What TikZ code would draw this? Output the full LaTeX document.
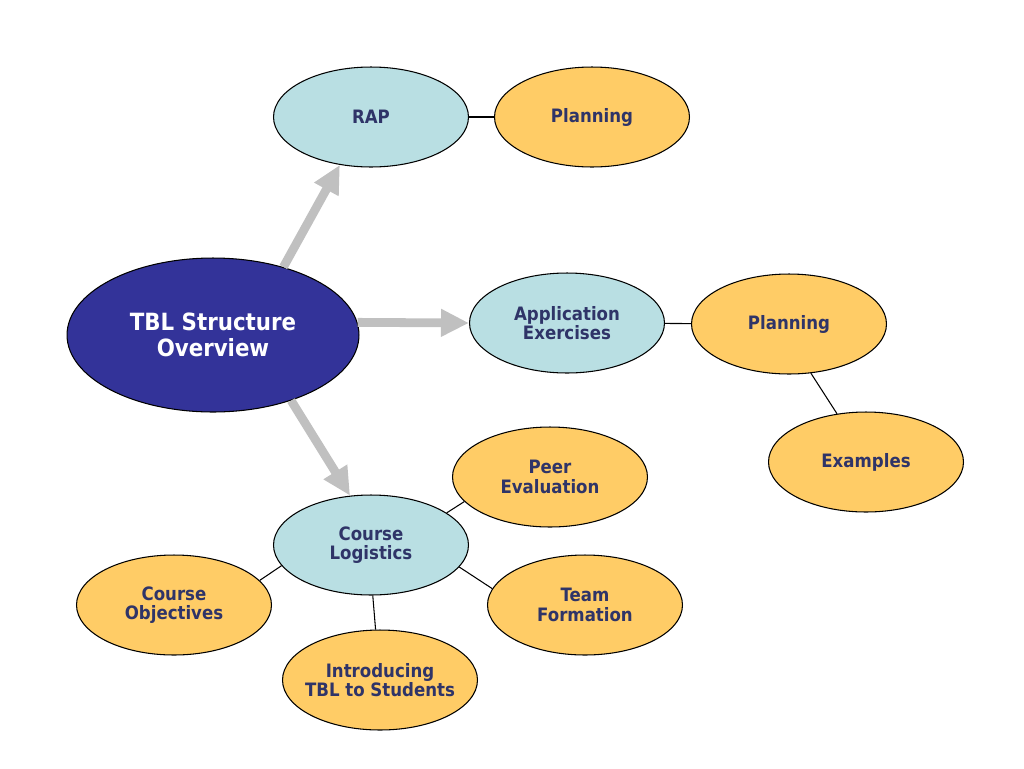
\documentclass[tikz,border=0pt]{standalone}
\usepackage{fontspec}
\setmainfont{DejaVu Sans Condensed}
\usetikzlibrary{shapes.geometric,arrows.meta}

\definecolor{hubblue}{HTML}{333399}
\definecolor{topicblue}{HTML}{B9DFE3}
\definecolor{detailgold}{HTML}{FFCC66}
\definecolor{labelnavy}{HTML}{2F3468}
\definecolor{arrowgray}{HTML}{C0C0C0}

\begin{document}
\begin{tikzpicture}[
    x=0.02cm, y=-0.02cm,
    bubble/.style={ellipse, draw=black, line width=0.6pt, inner sep=-0.6cm,
      align=center, text=labelnavy, minimum width=3.9cm, minimum height=2.0cm,
      font=\bfseries\fontsize{10.5}{11.2}\selectfont},
    hub/.style={bubble, fill=hubblue, text=white, minimum width=5.84cm,
      minimum height=3.08cm, font=\bfseries\fontsize{13.5}{15.2}\selectfont},
    topic/.style={bubble, fill=topicblue},
    detail/.style={bubble, fill=detailgold},
    bigarrow/.style={draw=arrowgray, line width=5pt,
      -{Triangle[length=0.56cm, width=0.52cm]}},
    link/.style={draw=black, line width=0.6pt},
  ]
  \useasboundingbox (0,0) rectangle (1024,768);

  % centre and the three topics
  \node[hub] (tbl) at (213,335) {TBL Structure\\Overview};
  \node[topic] (rap) at (371,117) {RAP};
  \node[topic] (appex) at (567,323) {Application\\Exercises};
  \node[topic] (logis) at (371,545) {Course\\Logistics};

  % details
  \node[detail] (rapplan) at (592,117) {Planning};
  \node[detail] (explan) at (789,324) {Planning};
  \node[detail] (examples) at (866,462) {Examples};
  \node[detail] (peer) at (550,477) {Peer\\Evaluation};
  \node[detail] (objectives) at (174,605) {Course\\Objectives};
  \node[detail] (team) at (585,605) {Team\\Formation};
  \node[detail] (intro) at (380,680) {Introducing\\TBL to Students};

  \draw[bigarrow] (tbl.44) -- (rap.237);
  \draw[bigarrow] (tbl.5) -- (appex.west);
  \draw[bigarrow] (tbl.-40) -- (logis.113);

  \draw[link] (rap) -- (rapplan);
  \draw[link] (appex) -- (explan);
  \draw[link] (explan.-66) -- (examples.121);
  \draw[link] (logis.23) -- (peer.196);
  \draw[link] (logis.193) -- (objectives.16);
  \draw[link] (logis.-14) -- (team.170);
  \draw[link] (logis.-88) -- (intro.95);
\end{tikzpicture}
\end{document}
